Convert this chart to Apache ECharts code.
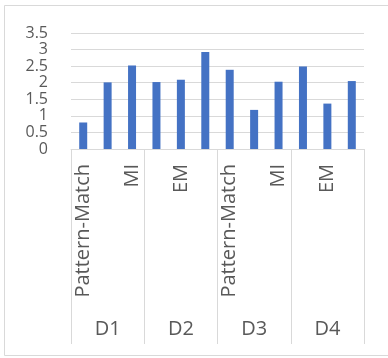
<!DOCTYPE html>
<html>
<head>
<meta charset="utf-8">
<script src="https://cdn.jsdelivr.net/npm/echarts@6/dist/echarts.min.js"></script>
<style>
  html, body { margin: 0; padding: 0; background: #fff; }
  #chart { width: 388px; height: 358px; }
</style>
</head>
<body>
<div id="chart"></div>
<script>
// Groups and the methods measured within each group
const groups = ['D1', 'D2', 'D3', 'D4'];
const methods = ['Pattern-Match', 'EM', 'MI'];

// Scores per group, in method order
const d1Values = [0.80, 2.01, 2.52];
const d2Values = [2.02, 2.09, 2.93];
const d3Values = [2.39, 1.18, 2.03];
const d4Values = [2.49, 1.37, 2.05];

// Value axis ticks
const yMin = 0;
const yMax = 3.5;
const yStep = 0.5;

const categories = [];
groups.forEach(() => methods.forEach(m => categories.push(m)));
const values = [].concat(d1Values, d2Values, d3Values, d4Values);

const gridLeft = 71, gridRight = 24, gridTop = 33, gridBottom = 209;
const groupAxisDrop = 195;

const textColor = '#595959';
const lineColor = '#d9d9d9';
const font = 'Open Sans';

const chart = echarts.init(document.getElementById('chart'), null, { renderer: 'canvas' });
chart.setOption({
  animation: false,
  backgroundColor: '#fff',
  graphic: [{
    type: 'rect',
    shape: { x: 4.5, y: 5.5, width: 420, height: 350 },
    style: { fill: 'none', stroke: lineColor, lineWidth: 1 },
    silent: true,
    z: -1
  }],
  grid: { left: gridLeft, right: gridRight, top: gridTop, bottom: gridBottom },
  xAxis: [{
    type: 'category',
    data: categories,
    position: 'bottom',
    axisLine: { show: true, lineStyle: { color: lineColor, width: 1 } },
    axisTick: { show: false },
    axisLabel: {
      interval: 1,
      rotate: 90,
      margin: 15,
      color: textColor,
      fontFamily: font,
      fontSize: 20
    }
  }, {
    type: 'category',
    data: groups,
    position: 'bottom',
    offset: groupAxisDrop,
    axisLine: { show: false },
    axisTick: {
      show: true,
      inside: true,
      length: groupAxisDrop,
      lineStyle: { color: lineColor, width: 1 }
    },
    axisLabel: {
      inside: true,
      margin: 5,
      color: textColor,
      fontFamily: font,
      fontSize: 20
    }
  }],
  yAxis: {
    type: 'value',
    min: yMin,
    max: yMax,
    interval: yStep,
    axisLine: { show: false },
    axisTick: { show: false },
    splitLine: { lineStyle: { color: lineColor, width: 1 } },
    axisLabel: {
      margin: 23,
      showMinLabel: true,
      showMaxLabel: true,
      color: textColor,
      fontFamily: font,
      fontSize: 16
    }
  },
  series: [{
    type: 'bar',
    xAxisIndex: 0,
    data: values,
    barWidth: 8,
    itemStyle: { color: '#4472c4' }
  }]
});
</script>
</body>
</html>
